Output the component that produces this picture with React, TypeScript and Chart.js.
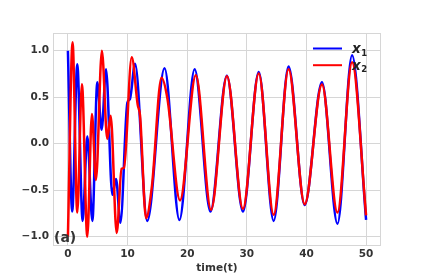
import React, { useEffect, useRef } from "react";
import { Chart, registerables } from "chart.js";

Chart.register(...registerables);

// (extrema and shoulders of each trace)
const tX1 = [0, 0.72, 1.57, 2.47, 3.25, 4.1, 4.93, 5.66, 6.39, 7.45, 8.07, 8.8, 9.97, 10.4, 11.26, 13.3, 16.2, 18.7, 21.25, 23.9, 26.65, 29.35, 32.0, 34.5, 37.0, 39.7, 42.6, 45.2, 47.65, 50];
const x1Vals = [1.0, -0.73, 0.855, -0.83, 0.08, -0.83, 0.66, 0.15, 0.8, -0.55, -0.38, -0.85, 0.44, 0.48, 0.86, -0.83, 0.81, -0.82, 0.8, -0.73, 0.73, -0.73, 0.77, -0.83, 0.83, -0.66, 0.66, -0.86, 0.95, -0.82];

const tX2 = [0, 0.78, 1.57, 2.35, 3.25, 4.03, 4.7, 5.7, 6.6, 7.17, 8.18, 9.0, 9.4, 10.7, 11.7, 12.1, 13.1, 14.1, 15.7, 16.7, 18.8, 21.45, 24.0, 26.67, 29.35, 32.0, 34.5, 37.0, 39.7, 42.6, 45.2, 47.65, 50];
const x2Vals = [-1.0, 1.09, -0.74, 0.64, -1.0, 0.32, -0.39, 1.0, 0.05, 0.3, -0.96, -0.27, -0.26, 0.93, 0.42, 0.3, -0.8, -0.45, 0.71, 0.48, -0.61, 0.735, -0.71, 0.725, -0.7, 0.755, -0.765, 0.8, -0.65, 0.635, -0.74, 0.875, -0.77];

const xTicks = [0, 10, 20, 30, 40, 50];
const yTicks = [-1.0, -0.5, 0.0, 0.5, 1.0];
const seriesNames = ["1", "2"];
const seriesColors = ["#0000ff", "#ff0000"];
const xLabel = "time(t)";
const panelLabel = "(a)";

const FONT = "'DejaVu Sans', sans-serif";
const TEXT = "#333333";
const GRID = "#d6d6d6";

const extras = {
  id: "extras",
  afterDatasetsDraw(chart: any) {
    const { ctx, chartArea } = chart;
    ctx.save();
    // frame
    ctx.strokeStyle = GRID;
    ctx.lineWidth = 1;
    ctx.strokeRect(chartArea.left + 0.5, chartArea.top + 0.5, chartArea.right - chartArea.left - 1, chartArea.bottom - chartArea.top - 1);
    // legend
    const lx0 = chartArea.right - 68;
    const lx1 = chartArea.right - 39;
    const tx = chartArea.right - 29;
    seriesNames.forEach((sub, i) => {
      const y = chartArea.top + 15.5 + i * 16.7;
      ctx.strokeStyle = seriesColors[i];
      ctx.lineWidth = 2;
      ctx.beginPath();
      ctx.moveTo(lx0, y);
      ctx.lineTo(lx1, y);
      ctx.stroke();
      ctx.fillStyle = "#222222";
      ctx.textAlign = "left";
      ctx.textBaseline = "alphabetic";
      ctx.font = `italic bold 13.5px ${FONT}`;
      ctx.fillText("x", tx, y + 4.3);
      const w = ctx.measureText("x").width;
      ctx.font = `bold 8.5px ${FONT}`;
      ctx.fillText(sub, tx + w + 0.5, y + 7);
    });
    // panel label
    ctx.fillStyle = TEXT;
    ctx.font = `bold 14px ${FONT}`;
    ctx.textAlign = "left";
    ctx.fillText(panelLabel, chartArea.left + 1, chartArea.bottom - 4);
    ctx.restore();
  },
};

export default function App() {
  const ref = useRef<HTMLCanvasElement | null>(null);
  useEffect(() => {
    if (!ref.current) return;
    const chart = new Chart(ref.current, {
      type: "line",
      data: {
        datasets: [
          {
            label: "x1",
            data: tX1.map((t, i) => ({ x: t, y: x1Vals[i] })),
            borderColor: seriesColors[0],
            borderWidth: 2.5,
            pointRadius: 0,
            cubicInterpolationMode: "monotone",
            fill: false,
            order: 1,
          },
          {
            label: "x2",
            data: tX2.map((t, i) => ({ x: t, y: x2Vals[i] })),
            borderColor: seriesColors[1],
            borderWidth: 2.5,
            pointRadius: 0,
            cubicInterpolationMode: "monotone",
            fill: false,
            order: 0,
          },
        ],
      },
      options: {
        animation: false,
        responsive: false,
        devicePixelRatio: 1,
        layout: { padding: { top: 33, right: 42, left: 0, bottom: 0 } },
        plugins: { legend: { display: false }, tooltip: { enabled: false } },
        scales: {
          x: {
            type: "linear",
            min: -2.5,
            max: 52.5,
            afterBuildTicks: (s: any) => {
              s.ticks = xTicks.map((v) => ({ value: v }));
            },
            afterFit: (s: any) => {
              s.height = 31;
            },
            grid: { color: GRID, drawTicks: false, lineWidth: 1 },
            border: { display: false },
            ticks: {
              padding: 2,
              color: TEXT,
              font: { family: FONT, size: 10.5, weight: "bold" },
              callback: (v: any) => String(v),
            },
            title: {
              display: true,
              text: xLabel,
              color: TEXT,
              font: { family: FONT, size: 10.5, weight: "bold" },
              padding: { top: 0, bottom: 2 },
            },
          },
          y: {
            type: "linear",
            min: -1.1,
            max: 1.19,
            afterBuildTicks: (s: any) => {
              s.ticks = yTicks.map((v) => ({ value: v }));
            },
            afterFit: (s: any) => {
              s.width = 53;
            },
            grid: { color: GRID, drawTicks: false, lineWidth: 1 },
            border: { display: false },
            ticks: {
              padding: 4,
              color: TEXT,
              font: { family: FONT, size: 10.5, weight: "bold" },
              callback: (v: any) => {
                const s = Math.abs(v).toFixed(1);
                return v < 0 ? "\u2212" + s : s;
              },
            },
          },
        },
      },
      plugins: [extras],
    });
    return () => chart.destroy();
  }, []);
  return (
    <div style={{ position: "absolute", left: 0, top: 0, width: 423, height: 277, background: "#fff" }}>
      <canvas ref={ref} width={423} height={277} style={{ display: "block", width: 423, height: 277 }} />
    </div>
  );
}
